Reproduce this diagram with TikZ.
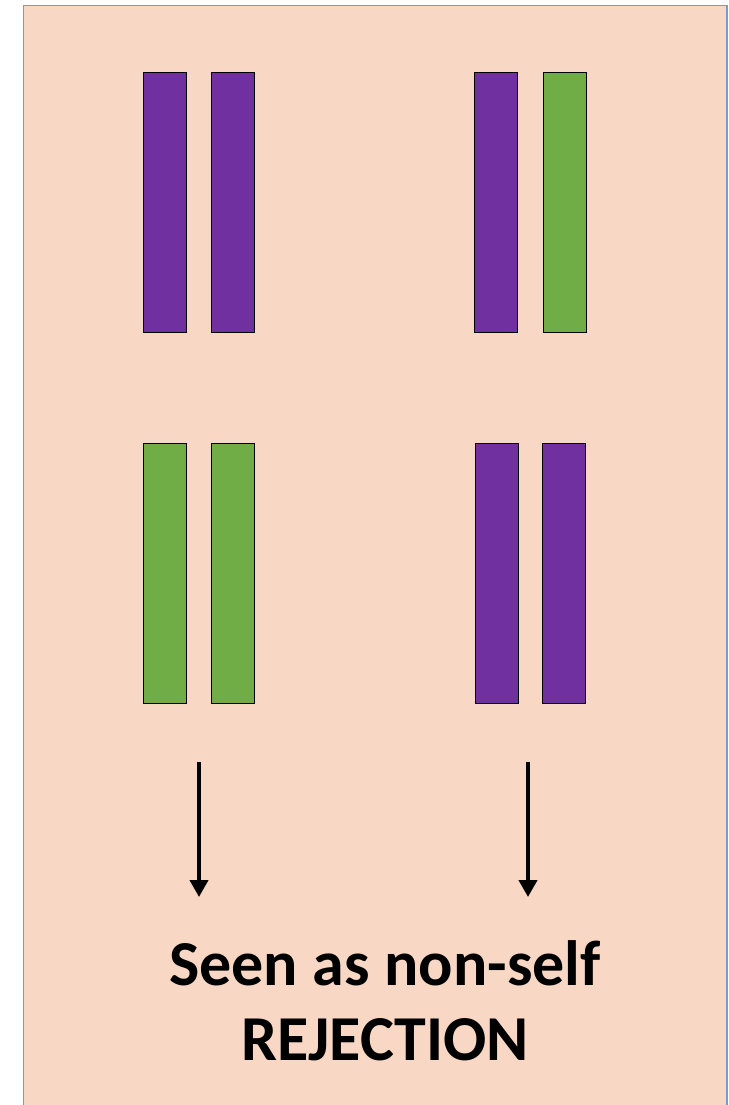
\documentclass[tikz,border=0pt]{standalone}
\usepackage{fontspec}
\setmainfont{Carlito}
\usetikzlibrary{arrows.meta}
\definecolor{bgfill}{HTML}{F8D8C4}
\definecolor{bgline}{HTML}{7F96D0}
\definecolor{purp}{HTML}{7030A0}
\definecolor{grn}{HTML}{70AD47}
\tikzset{
  bar/.style={draw=black, line width=1.2pt, minimum width=43pt, minimum height=260pt, inner sep=0pt, anchor=north west},
  pbar/.style={bar, fill=purp},
  gbar/.style={bar, fill=grn},
  arr/.style={line width=4pt, -{Triangle[width=18pt,length=17pt]}},
  lbl/.style={font=\fontsize{64}{75}\selectfont\bfseries, align=center, inner sep=0pt}
}
\begin{document}
\begin{tikzpicture}[x=1pt,y=-1pt]
\useasboundingbox (0,0) rectangle (728,1105);
\path[fill=bgfill, draw=bgline, line width=1.5pt] (23.5,5.5) rectangle (727,1110);
\node[pbar] (a1) at (143,72) {};
\node[pbar] (a2) at (210.5,72) {};
\node[pbar] (b1) at (474,72) {};
\node[gbar] (b2) at (543,72) {};
\node[gbar] (c1) at (142.5,443) {};
\node[gbar] (c2) at (211,443) {};
\node[pbar] (d1) at (475,443) {};
\node[pbar] (d2) at (542,443) {};
\coordinate (s1) at (199,762);
\coordinate (e1) at (199,897);
\coordinate (s2) at (528,762);
\coordinate (e2) at (528,897);
\draw[arr] (s1) -- (e1);
\draw[arr] (s2) -- (e2);
\node[lbl, anchor=base] (t1) at (385,985) {Seen as non-self};
\node[lbl, anchor=base] (t2) at (385,1060) {REJECTION};
\end{tikzpicture}
\end{document}
